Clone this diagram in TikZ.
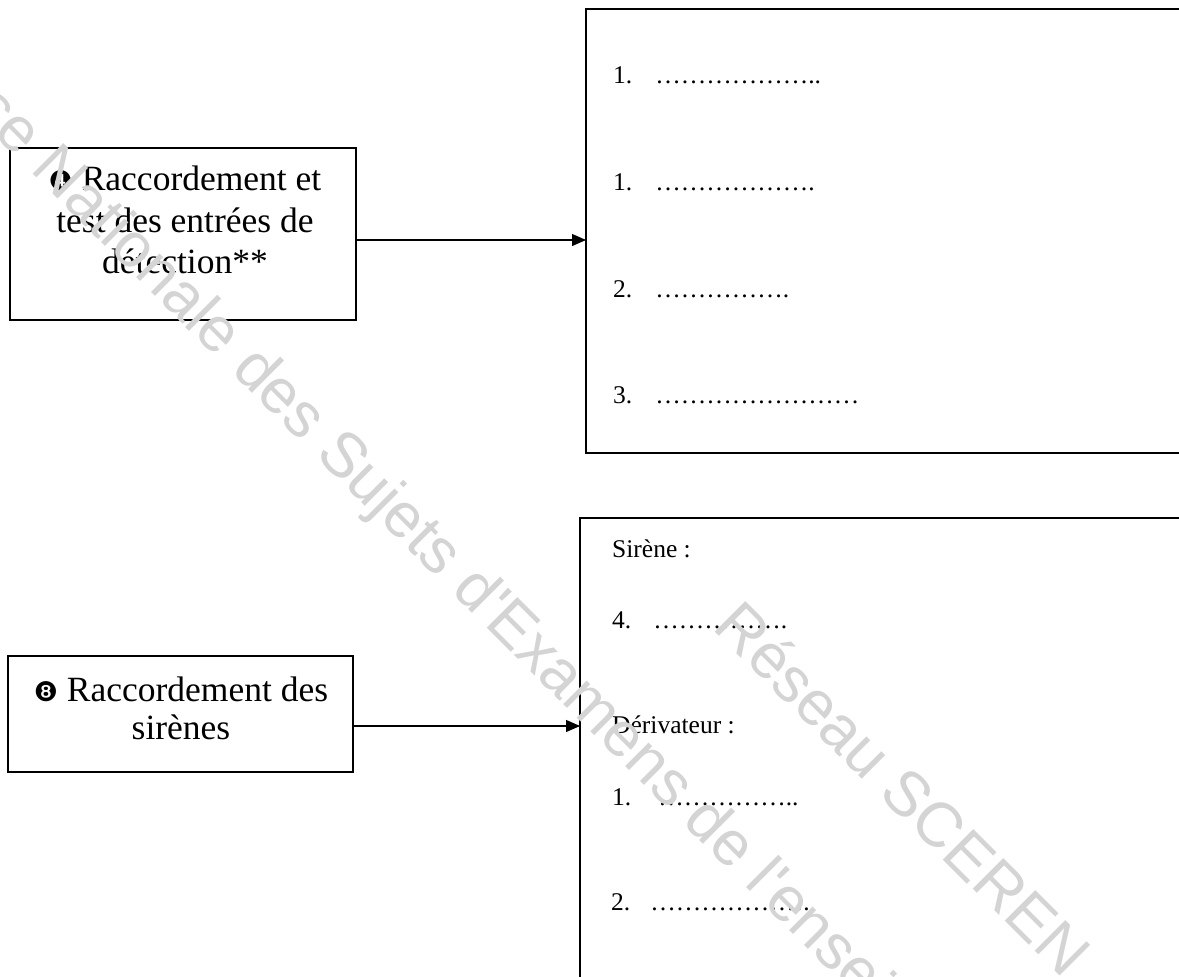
\documentclass[tikz,border=0pt]{standalone}
\usepackage{fontspec}
\setmainfont{Liberation Serif}
\newfontfamily\dvfont{DejaVu Sans}
\newfontfamily\wmfont{Liberation Sans}
\usetikzlibrary{arrows.meta,calc}
\definecolor{wmgray}{RGB}{212,212,212}
\begin{document}
\begin{tikzpicture}[x=1pt,y=-1pt,
  box/.style={draw=black,line width=1.8pt,rectangle,inner sep=0pt,outer sep=0pt},
  lefttext/.style={inner sep=0pt,align=center,anchor=north,font=\fontsize{35.5}{41.5}\selectfont},
  item/.style={inner sep=0pt,anchor=base west,font=\fontsize{25.5}{30}\selectfont},
  arr/.style={line width=1.2pt,-{Triangle[length=14pt,width=12pt]}},
  wm/.style={inner sep=0pt,text=wmgray,font=\wmfont\fontsize{63}{75}\selectfont,rotate=-45,anchor=west}]
\useasboundingbox (0,0) rectangle (1179,977);
\clip (0,0) rectangle (1179,977);
% left boxes
\node[box,minimum width=346pt,minimum height=172pt] (b1) at (183,234) {};
\node[lefttext] (t1) at (185,166) {{\dvfont\fontsize{27}{30}\selectfont ❹} Raccordement et\\test des entrées de\\détection**};
\node[box,minimum width=345pt,minimum height=116pt] (b2) at (180.5,714) {};
\node[lefttext,font=\fontsize{35.5}{38}\selectfont] (t2) at (181,677) {{\dvfont\fontsize{27}{30}\selectfont ❽} Raccordement des\\sirènes};
% right boxes
\node[box,minimum width=614pt,minimum height=444pt] (r1) at (893,231) {};
\node[box,minimum width=620pt,minimum height=482pt] (r2) at (890,759) {};
% items in r1
\node[item] (i1) at (613,83) {1.\hspace{23pt}………………..};
\node[item] (i2) at (613,190) {1.\hspace{23pt}……………….};
\node[item] (i3) at (613,297) {2.\hspace{23pt}…………….};
\node[item] (i4) at (613,403) {3.\hspace{23pt}……………………};
% items in r2
\node[item] (s1) at (612,557) {Sirène :};
\node[item] (s2) at (612,628) {4.\hspace{22pt}…………….};
\node[item] (s3) at (612,733) {Dérivateur :};
\node[item] (s4) at (612,805) {1.\hspace{27pt}……………..};
\node[item] (s5) at (611,910) {2.\hspace{20pt}……………….};
% connectors
\coordinate (a1) at ([yshift=-6pt]b1.east);
\draw[arr] (a1) -- (a1 -| r1.west);
\coordinate (a2) at ([yshift=-12pt]b2.east);
\draw[arr] (a2) -- (a2 -| r2.west);
% watermark
\node[wm] (wm1) at (-73,45) {Base Nationale des Sujets d'Examens de l'enseignement professionnel};
\node[wm] (wm2) at (728,612) {Réseau SCEREN};
\end{tikzpicture}
\end{document}
